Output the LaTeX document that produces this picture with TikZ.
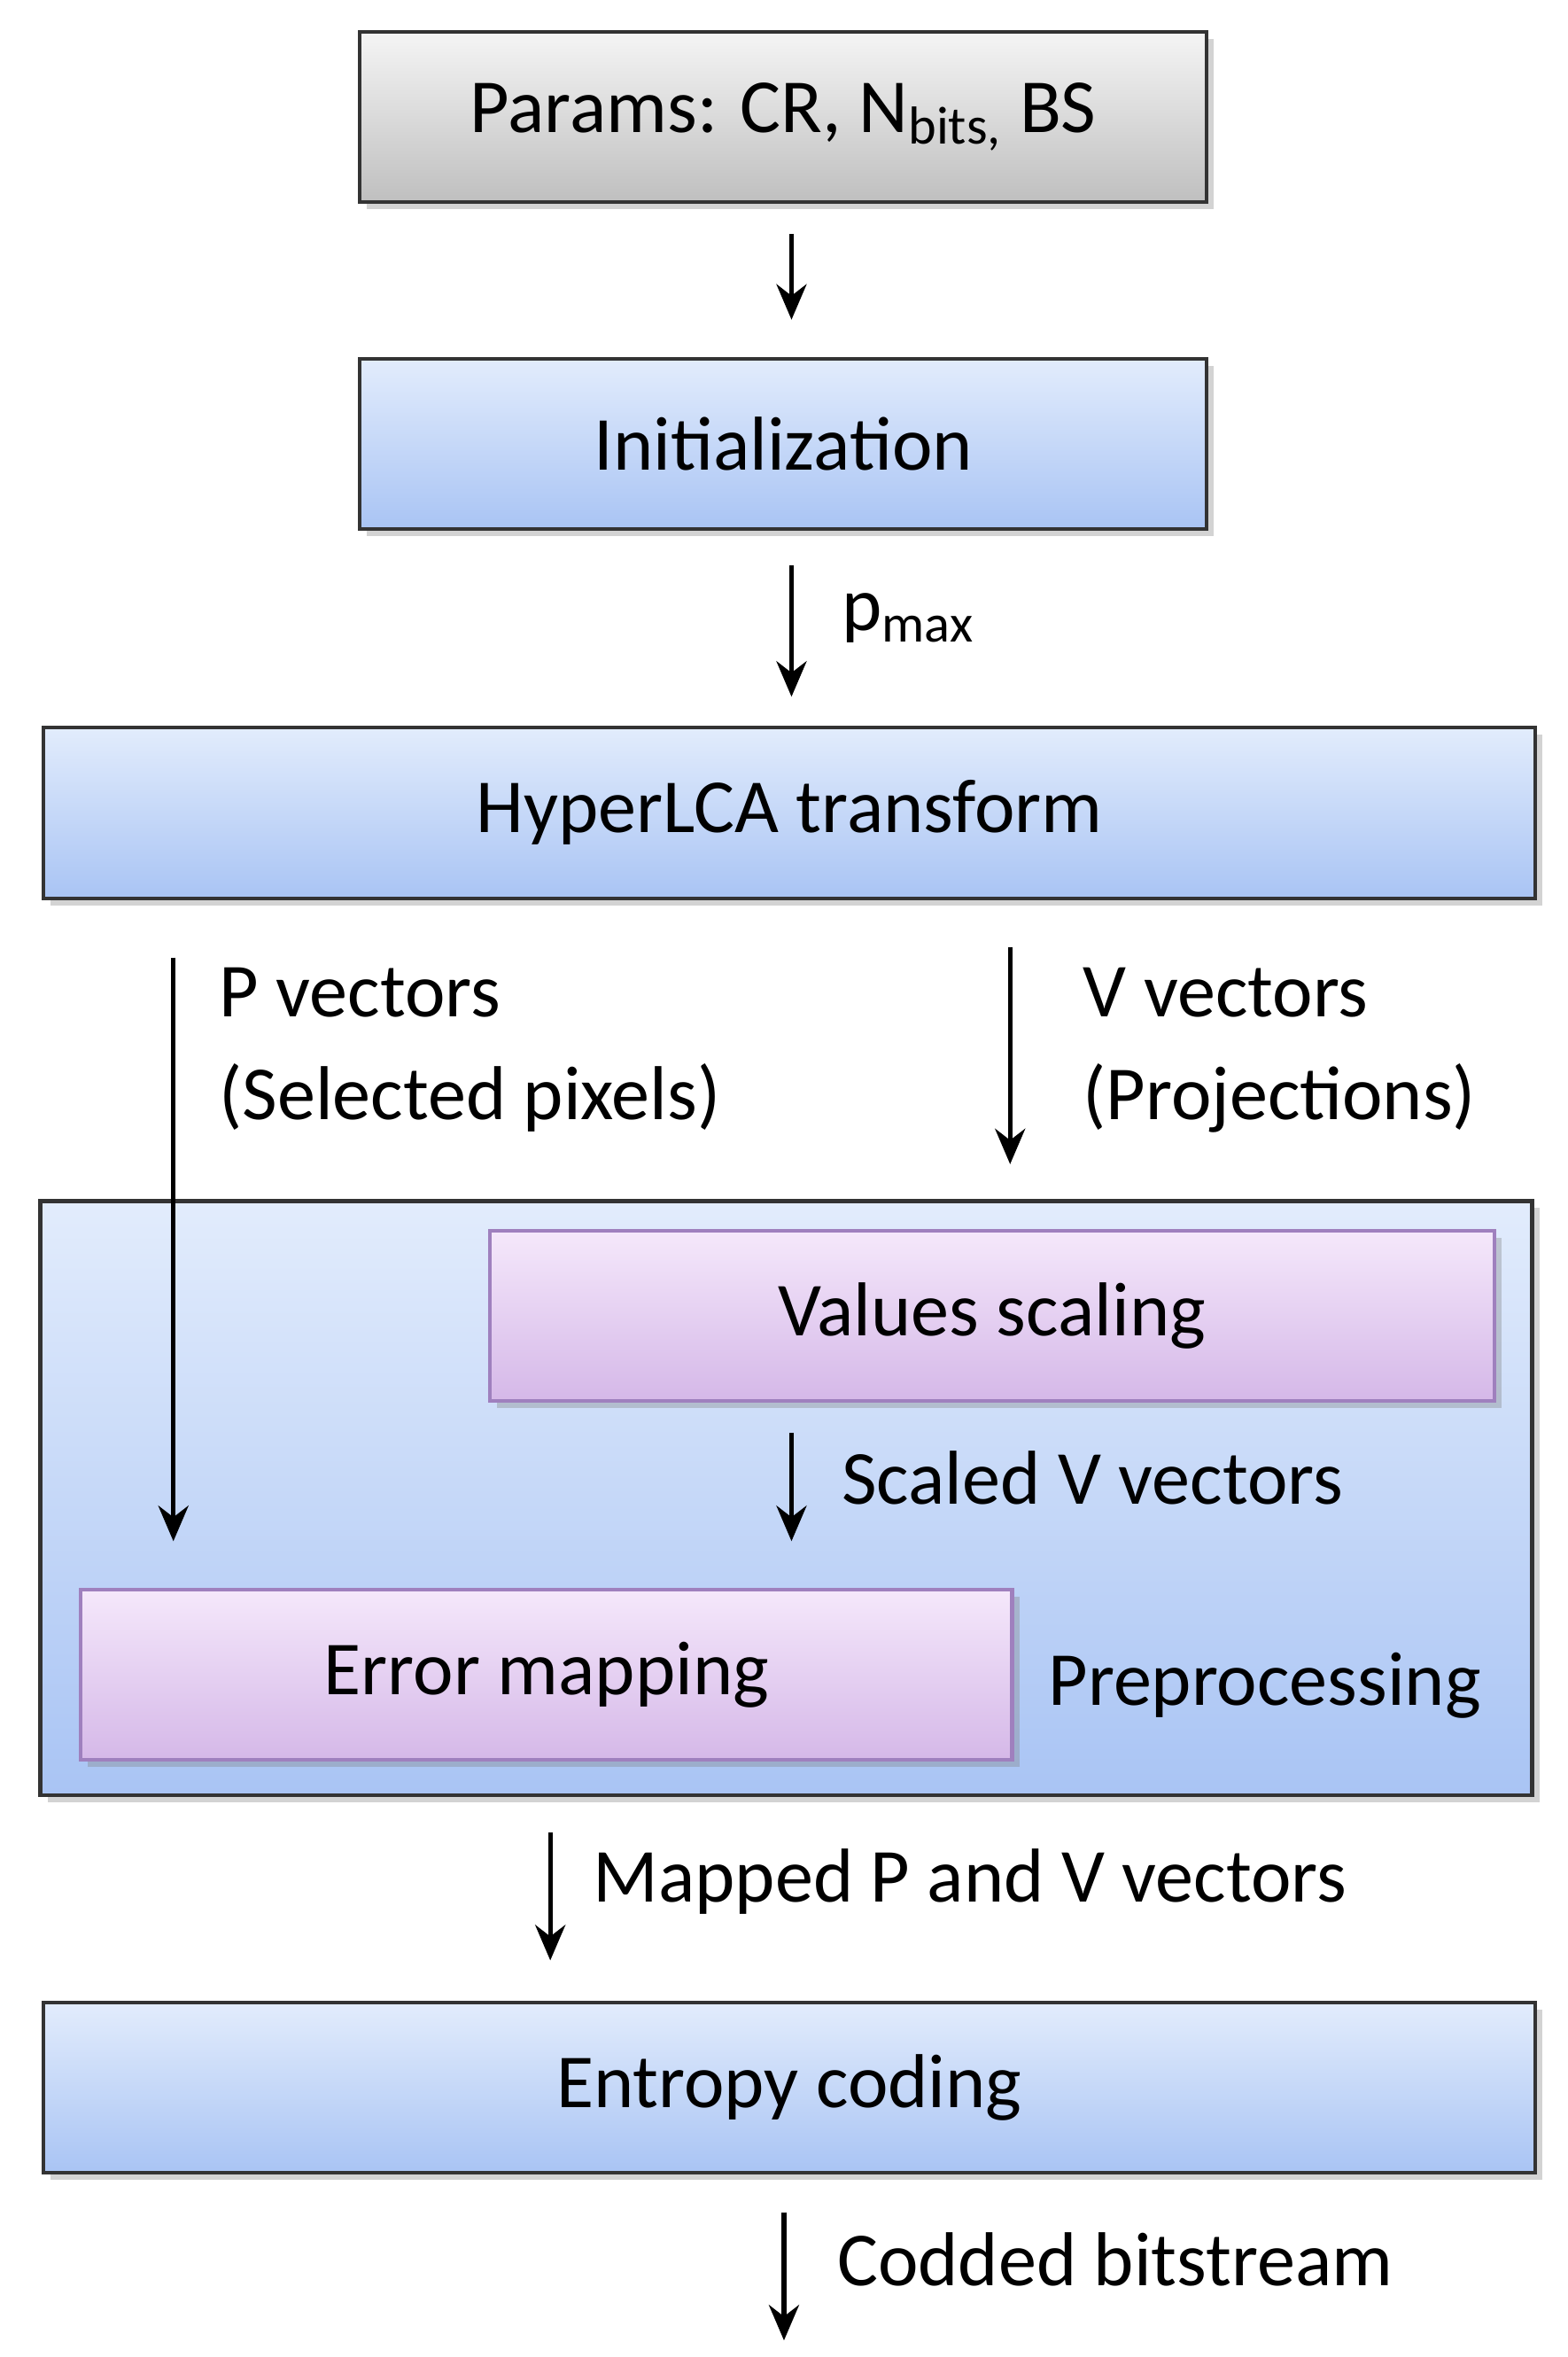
\documentclass[tikz,border=0pt]{standalone}
\usepackage{fontspec}
\setmainfont{Carlito}
\usetikzlibrary{positioning, arrows.meta, shadows}
\definecolor{bluetop}{HTML}{E2ECFC}
\definecolor{bluebot}{HTML}{A9C4F4}
\definecolor{purptop}{HTML}{F5E8FB}
\definecolor{purpbot}{HTML}{D5B8E8}
\definecolor{purpline}{HTML}{9F80BE}
\tikzstyle{box} = [rectangle, draw=black!80, line width=1.2pt, drop shadow={opacity=0.35, shadow xshift=0.8mm, shadow yshift=-0.8mm}, font=\fontsize{24.5}{29}\selectfont]
\tikzstyle{gbox} = [box, top color=gray!8, bottom color=gray!50, minimum width=9.55cm, minimum height=1.92cm]
\tikzstyle{bbox} = [box, top color=bluetop, bottom color=bluebot]
\tikzstyle{pbox} = [box, draw=purpline, top color=purptop, bottom color=purpbot, minimum height=1.92cm]
\tikzstyle{arrow} = [line width=1.5pt, -{Stealth[length=4mm, width=3.4mm]}]
\tikzstyle{textlabel} = [font=\fontsize{24.5}{29}\selectfont, anchor=west, inner sep=0pt]

\begin{document}
\begin{tikzpicture}[x=0.017cm, y=-0.017cm]
  \useasboundingbox (0,0) rectangle (1040,1563);

  % Boxes
  \node (params) [gbox] at (519.5,77.5) {Params: CR, N\textsubscript{bits,} BS};
  \node (init) [bbox, minimum width=9.55cm, minimum height=1.92cm] at (519.5,294.5) {Initialization};
  \node (hyper) [bbox, minimum width=16.82cm, minimum height=1.93cm] at (523.5,539) {HyperLCA transform};
  \node (prep) [bbox, minimum width=16.82cm, minimum height=6.7cm] at (521.5,993.5) {};
  \node (scaling) [pbox, minimum width=11.33cm] at (658,872.5) {Values scaling};
  \node (mapping) [pbox, minimum width=10.5cm] at (362.5,1110.5) {Error mapping};
  \node (entropy) [bbox, minimum width=16.82cm, minimum height=1.92cm] at (523.5,1384.5) {Entropy coding};

  % Arrow ends
  \coordinate (a1) at (525,155); \coordinate (b1) at (525,212);
  \coordinate (a2) at (525,375); \coordinate (b2) at (525,462);
  \coordinate (a3) at (115,635); \coordinate (b3) at (115,1022);
  \coordinate (a4) at (670,628); \coordinate (b4) at (670,772);
  \coordinate (a5) at (525,950); \coordinate (b5) at (525,1022);
  \coordinate (a6) at (365,1215); \coordinate (b6) at (365,1300);
  \coordinate (a7) at (520,1467); \coordinate (b7) at (520,1552);

  % Arrows
  \draw[arrow] (a1) -- (b1);
  \draw[arrow] (a2) -- (b2);
  \draw[arrow] (a3) -- (b3);
  \draw[arrow] (a4) -- (b4);
  \draw[arrow] (a5) -- (b5);
  \draw[arrow] (a6) -- (b6);
  \draw[arrow] (a7) -- (b7);

  % Labels
  \node[textlabel] (pmax) at (558,410) {p\textsubscript{max}};
  \node[textlabel] (pvec) at (145,658) {P vectors};
  \node[textlabel] (psel) at (145,728) {(Selected pixels)};
  \node[textlabel] (vvec) at (718,658) {V vectors};
  \node[textlabel] (vproj) at (718,728) {(Projections)};
  \node[textlabel] (scaled) at (558,980) {Scaled V vectors};
  \node[textlabel] (preplabel) at (695,1118) {Preprocessing};
  \node[textlabel] (mapped) at (393,1248) {Mapped P and V vectors};
  \node[textlabel] (codded) at (555,1498) {Codded bitstream};

\end{tikzpicture}
\end{document}
